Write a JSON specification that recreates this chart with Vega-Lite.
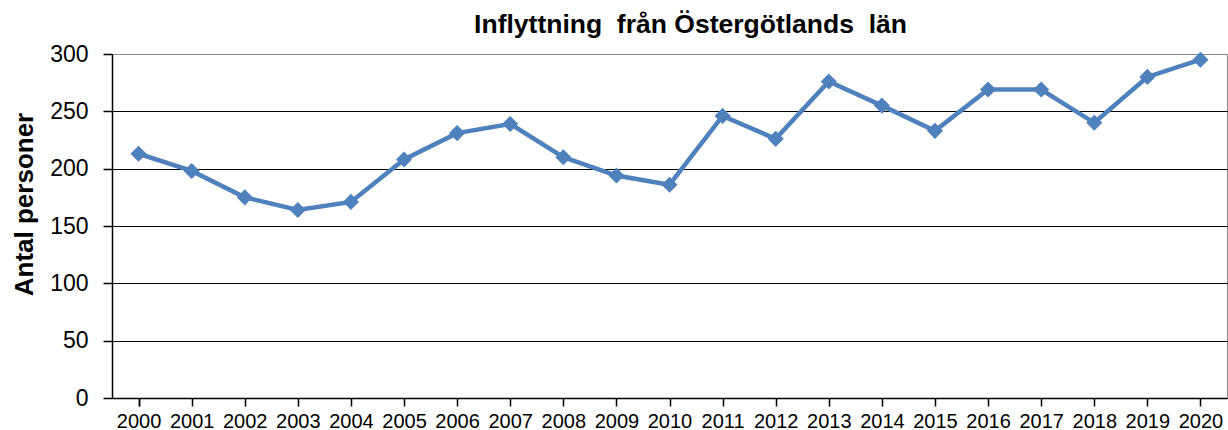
{
  "$schema": "https://vega.github.io/schema/vega-lite/v6.json",
  "width": 1115,
  "height": 344,
  "autosize": {"type": "none"},
  "padding": {"left": 112, "top": 54, "right": 1, "bottom": 32},
  "background": "white",
  "config": {
    "font": "Liberation Sans",
    "view": {"stroke": "#888", "strokeWidth": 1}
  },
  "title": {
    "text": "Inflyttning\u00a0 från Östergötlands\u00a0 län",
    "fontSize": 26.5,
    "fontWeight": "bold",
    "color": "black",
    "anchor": "middle",
    "dx": 21,
    "offset": 5,
    "font": "Liberation Sans"
  },
  "data": {
    "values": [
      {"year": "2000", "value": 213},
      {"year": "2001", "value": 198},
      {"year": "2002", "value": 175},
      {"year": "2003", "value": 164},
      {"year": "2004", "value": 171},
      {"year": "2005", "value": 208},
      {"year": "2006", "value": 231},
      {"year": "2007", "value": 239},
      {"year": "2008", "value": 210},
      {"year": "2009", "value": 194},
      {"year": "2010", "value": 186},
      {"year": "2011", "value": 246},
      {"year": "2012", "value": 226},
      {"year": "2013", "value": 276},
      {"year": "2014", "value": 255},
      {"year": "2015", "value": 233},
      {"year": "2016", "value": 269},
      {"year": "2017", "value": 269},
      {"year": "2018", "value": 240},
      {"year": "2019", "value": 280},
      {"year": "2020", "value": 295}
    ]
  },
  "encoding": {
    "x": {
      "field": "year",
      "type": "ordinal",
      "scale": {"type": "point", "padding": 0.5},
      "axis": {
        "title": null,
        "labelAngle": 0,
        "labelFontSize": 20,
        "labelColor": "black",
        "labelPadding": 5,
        "domainColor": "black",
        "domainWidth": 1.5,
        "tickColor": "black",
        "tickSize": 8,
        "tickWidth": 1.5,
        "tickBand": "extent",
        "grid": false
      }
    },
    "y": {
      "field": "value",
      "type": "quantitative",
      "scale": {"domain": [0, 300]},
      "axis": {
        "title": "Antal personer",
        "titleFontSize": 26,
        "titleFontWeight": "bold",
        "titleColor": "black",
        "titlePadding": 12,
        "titleY": 150,
        "values": [0, 50, 100, 150, 200, 250, 300],
        "labelFontSize": 23,
        "labelColor": "black",
        "labelPadding": 15,
        "domainColor": "black",
        "domainWidth": 1.5,
        "tickColor": "black",
        "tickSize": 9,
        "tickWidth": 1.5,
        "grid": true,
        "gridColor": {"condition": {"test": "datum.value === 300", "value": "#888"}, "value": "black"},
        "gridWidth": 1.2
      }
    }
  },
  "layer": [
    {
      "mark": {"type": "line", "color": "#4F81BD", "strokeWidth": 4.5}
    },
    {
      "mark": {"type": "point", "shape": "diamond", "filled": true, "opacity": 1, "color": "#4F81BD", "size": 260}
    }
  ]
}
